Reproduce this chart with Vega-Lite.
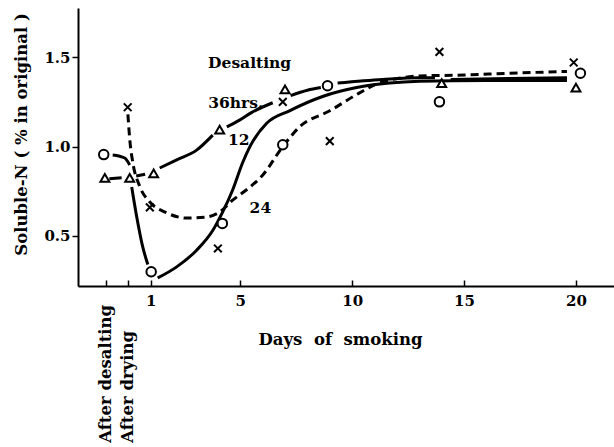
{
  "$schema": "https://vega.github.io/schema/vega-lite/v6.json",
  "width": 536,
  "height": 278,
  "autosize": {"type": "none"},
  "padding": {"left": 78, "top": 8, "right": 0, "bottom": 161},
  "background": "white",
  "config": {
    "view": {"stroke": null},
    "font": "DejaVu Serif",
    "axis": {
      "grid": false,
      "domainColor": "black",
      "domainWidth": 2,
      "tickColor": "black",
      "tickWidth": 1.5,
      "labelFont": "DejaVu Serif",
      "labelFontSize": 15,
      "labelFontWeight": "bold",
      "labelColor": "black",
      "titleFont": "DejaVu Serif",
      "titleFontSize": 16.5,
      "titleFontWeight": "bold",
      "titleColor": "black"
    }
  },
  "datasets": {
    "curves": [
      {"series": "36", "seg": "36a", "day": -0.85, "value": 0.82},
      {"series": "36", "seg": "36a", "day": -0.3, "value": 0.825},
      {"series": "36", "seg": "36b", "day": 0.35, "value": 0.835},
      {"series": "36", "seg": "36b", "day": 0.75, "value": 0.845},
      {"series": "36", "seg": "36c", "day": 1.4, "value": 0.88},
      {"series": "36", "seg": "36c", "day": 2.16, "value": 0.925},
      {"series": "36", "seg": "36c", "day": 3.05, "value": 0.98},
      {"series": "36", "seg": "36c", "day": 3.77, "value": 1.064},
      {"series": "36", "seg": "36d", "day": 4.4, "value": 1.11},
      {"series": "36", "seg": "36d", "day": 4.97, "value": 1.148},
      {"series": "36", "seg": "36d", "day": 5.5, "value": 1.19},
      {"series": "36", "seg": "36d", "day": 6.45, "value": 1.245},
      {"series": "36", "seg": "36e", "day": 7.25, "value": 1.285},
      {"series": "36", "seg": "36e", "day": 8.0, "value": 1.315},
      {"series": "36", "seg": "36e", "day": 8.6, "value": 1.33},
      {"series": "36", "seg": "36f", "day": 9.35, "value": 1.355},
      {"series": "36", "seg": "36f", "day": 11.36, "value": 1.375},
      {"series": "36", "seg": "36f", "day": 13.0, "value": 1.385},
      {"series": "36", "seg": "36f", "day": 13.7, "value": 1.385},
      {"series": "36", "seg": "36g", "day": 14.4, "value": 1.375},
      {"series": "36", "seg": "36g", "day": 17.0, "value": 1.38},
      {"series": "36", "seg": "36g", "day": 19.6, "value": 1.385},
      {"series": "12", "seg": "12a", "day": -0.7, "value": 0.953},
      {"series": "12", "seg": "12a", "day": -0.16, "value": 0.936},
      {"series": "12", "seg": "12a", "day": 0.06, "value": 0.897},
      {"series": "12", "seg": "12b", "day": 0.15, "value": 0.774},
      {"series": "12", "seg": "12b", "day": 0.375, "value": 0.606},
      {"series": "12", "seg": "12b", "day": 0.64, "value": 0.44},
      {"series": "12", "seg": "12b", "day": 0.87, "value": 0.34},
      {"series": "12", "seg": "12c", "day": 1.31, "value": 0.265},
      {"series": "12", "seg": "12c", "day": 2.16, "value": 0.327},
      {"series": "12", "seg": "12c", "day": 3.05, "value": 0.42},
      {"series": "12", "seg": "12c", "day": 3.77, "value": 0.53},
      {"series": "12", "seg": "12c", "day": 4.2, "value": 0.63},
      {"series": "12", "seg": "12c", "day": 4.66, "value": 0.757},
      {"series": "12", "seg": "12c", "day": 5.1, "value": 0.908},
      {"series": "12", "seg": "12c", "day": 5.42, "value": 0.997},
      {"series": "12", "seg": "12c", "day": 6.18, "value": 1.13},
      {"series": "12", "seg": "12c", "day": 7.2, "value": 1.2},
      {"series": "12", "seg": "12c", "day": 8.68, "value": 1.28},
      {"series": "12", "seg": "12c", "day": 10.2, "value": 1.33},
      {"series": "12", "seg": "12c", "day": 11.67, "value": 1.355},
      {"series": "12", "seg": "12c", "day": 13.0, "value": 1.365},
      {"series": "12", "seg": "12c", "day": 16.0, "value": 1.37},
      {"series": "12", "seg": "12c", "day": 19.6, "value": 1.37},
      {"series": "24", "seg": "24a", "day": -0.02, "value": 1.18},
      {"series": "24", "seg": "24a", "day": 0.07, "value": 1.03},
      {"series": "24", "seg": "24a", "day": 0.2, "value": 0.91},
      {"series": "24", "seg": "24a", "day": 0.5, "value": 0.78},
      {"series": "24", "seg": "24a", "day": 0.96, "value": 0.69},
      {"series": "24", "seg": "24a", "day": 1.7, "value": 0.63},
      {"series": "24", "seg": "24a", "day": 2.6, "value": 0.6},
      {"series": "24", "seg": "24a", "day": 3.5, "value": 0.606},
      {"series": "24", "seg": "24a", "day": 4.08, "value": 0.634},
      {"series": "24", "seg": "24a", "day": 4.66, "value": 0.7},
      {"series": "24", "seg": "24a", "day": 5.4, "value": 0.77},
      {"series": "24", "seg": "24a", "day": 6.0, "value": 0.84},
      {"series": "24", "seg": "24a", "day": 6.9, "value": 1.0},
      {"series": "24", "seg": "24a", "day": 7.65, "value": 1.11},
      {"series": "24", "seg": "24a", "day": 9.0, "value": 1.2},
      {"series": "24", "seg": "24a", "day": 10.33, "value": 1.3},
      {"series": "24", "seg": "24a", "day": 11.2, "value": 1.355},
      {"series": "24", "seg": "24a", "day": 12.0, "value": 1.38},
      {"series": "24", "seg": "24a", "day": 13.0, "value": 1.395},
      {"series": "24", "seg": "24a", "day": 15.0, "value": 1.4},
      {"series": "24", "seg": "24a", "day": 17.0, "value": 1.41},
      {"series": "24", "seg": "24a", "day": 19.6, "value": 1.42}
    ],
    "points": [
      {"series": "12", "day": -1.1, "value": 0.955},
      {"series": "12", "day": 1.02, "value": 0.3},
      {"series": "12", "day": 4.2, "value": 0.57},
      {"series": "12", "day": 6.9, "value": 1.01},
      {"series": "12", "day": 8.9, "value": 1.34},
      {"series": "12", "day": 13.9, "value": 1.25},
      {"series": "12", "day": 20.2, "value": 1.41},
      {"series": "36", "day": -1.05, "value": 0.825},
      {"series": "36", "day": 0.06, "value": 0.825},
      {"series": "36", "day": 1.13, "value": 0.85},
      {"series": "36", "day": 4.08, "value": 1.095},
      {"series": "36", "day": 7.0, "value": 1.32},
      {"series": "36", "day": 14.0, "value": 1.355},
      {"series": "36", "day": 20.0, "value": 1.33},
      {"series": "24", "day": -0.03, "value": 1.22},
      {"series": "24", "day": 0.96, "value": 0.66},
      {"series": "24", "day": 4.0, "value": 0.43},
      {"series": "24", "day": 6.9, "value": 1.25},
      {"series": "24", "day": 9.0, "value": 1.03},
      {"series": "24", "day": 13.9, "value": 1.53},
      {"series": "24", "day": 19.9, "value": 1.47}
    ],
    "labels": [
      {"text": "Desalting", "day": 5.42, "value": 1.466},
      {"text": "36hrs.", "day": 4.8, "value": 1.245},
      {"text": "12", "day": 4.93, "value": 1.036},
      {"text": "24", "day": 5.9, "value": 0.656}
    ],
    "stages": [
      {"text": "After desalting", "day": -1, "value": -0.657},
      {"text": "After drying", "day": 0, "value": -0.657}
    ]
  },
  "encoding": {
    "x": {
      "field": "day",
      "type": "quantitative",
      "scale": {"domain": [-2.25, 21.7], "nice": false, "zero": false},
      "axis": {
        "values": [-1, 0, 1, 5, 10, 15, 20],
        "labelExpr": "datum.value < 1 ? '' : datum.label",
        "tickSize": -6,
        "labelPadding": 13,
        "title": "Days\u00a0 of\u00a0 smoking",
        "titleX": 262,
        "titleY": 53,
        "titleBaseline": "middle"
      }
    },
    "y": {
      "field": "value",
      "type": "quantitative",
      "scale": {"domain": [0.22, 1.775], "nice": false, "zero": false},
      "axis": {
        "values": [0.5, 1.0, 1.5],
        "format": ".1f",
        "tickSize": 6,
        "labelPadding": 2,
        "title": "Soluble-N ( % in original )",
        "titleX": -57,
        "titleY": 126,
        "titleBaseline": "middle"
      }
    }
  },
  "layer": [
    {
      "data": {"name": "curves"},
      "transform": [{"filter": "datum.series != '24'"}],
      "mark": {"type": "line", "interpolate": "monotone", "color": "black", "strokeWidth": 3},
      "encoding": {"detail": {"field": "seg"}}
    },
    {
      "data": {"name": "curves"},
      "transform": [{"filter": "datum.series == '24'"}],
      "mark": {"type": "line", "interpolate": "monotone", "color": "black", "strokeWidth": 3, "strokeDash": [8, 5]},
      "encoding": {"detail": {"field": "seg"}}
    },
    {
      "data": {"name": "points"},
      "transform": [{"filter": "datum.series == '12'"}],
      "mark": {"type": "point", "shape": "circle", "size": 90, "filled": false, "fill": "white", "fillOpacity": 1, "stroke": "black", "strokeWidth": 2, "opacity": 1}
    },
    {
      "data": {"name": "points"},
      "transform": [{"filter": "datum.series == '36'"}],
      "mark": {"type": "point", "shape": "triangle-up", "size": 80, "filled": false, "fill": "white", "fillOpacity": 1, "stroke": "black", "strokeWidth": 2, "opacity": 1}
    },
    {
      "data": {"name": "points"},
      "transform": [{"filter": "datum.series == '24'"}],
      "mark": {"type": "point", "shape": "M-1,-1L1,1M-1,1L1,-1", "size": 60, "filled": false, "stroke": "black", "strokeWidth": 2, "opacity": 1}
    },
    {
      "data": {"name": "labels"},
      "mark": {"type": "text", "font": "DejaVu Serif", "fontSize": 15.5, "fontWeight": "bold", "color": "black", "align": "center", "baseline": "middle"},
      "encoding": {"text": {"field": "text"}}
    },
    {
      "data": {"name": "stages"},
      "mark": {"type": "text", "font": "DejaVu Serif", "fontSize": 16.5, "fontWeight": "bold", "color": "black", "align": "left", "baseline": "middle", "angle": 270},
      "encoding": {"text": {"field": "text"}}
    }
  ]
}
